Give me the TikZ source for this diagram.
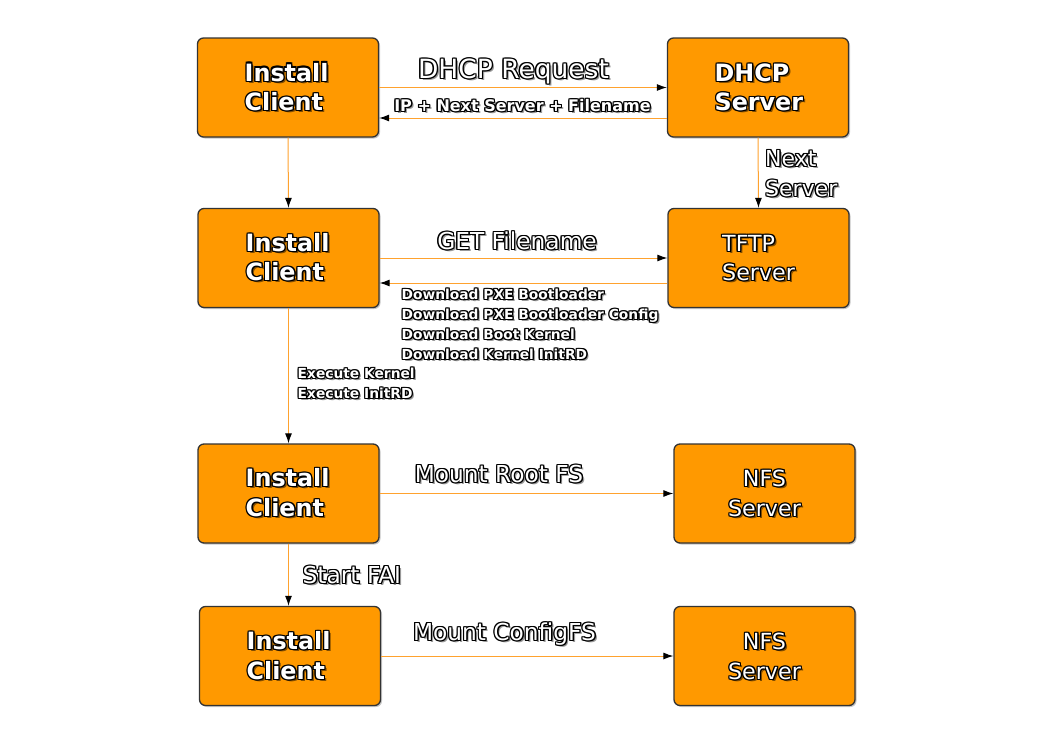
\documentclass[tikz,border=0pt]{standalone}
\usepackage{fontspec}
\setmainfont{DejaVu Sans}
\usetikzlibrary{arrows.meta,shadows}
\definecolor{boxor}{HTML}{FF9900}
\definecolor{lineor}{HTML}{FFA22E}
\colorlet{shw}{black!40}
\colorlet{sho}{boxor!50!black}
\def\shcol{shw}
\newcommand\otp[4]{\rlap{\kern#1\raise#2\hbox{\color{#3}#4}}}
\newcommand\ot[1]{\leavevmode
  \otp{2.3pt}{-2.3pt}{\shcol}{#1}%
  \otp{-1.1pt}{-1.1pt}{black}{#1}\otp{-1.1pt}{0pt}{black}{#1}\otp{-1.1pt}{1.1pt}{black}{#1}%
  \otp{0pt}{-1.1pt}{black}{#1}\otp{0pt}{1.1pt}{black}{#1}%
  \otp{1.1pt}{-1.1pt}{black}{#1}\otp{1.1pt}{0pt}{black}{#1}\otp{1.1pt}{1.1pt}{black}{#1}%
  \hbox{\color{white}#1}}
\newcommand\olab[4]{\node[#1] (#3) at (#2) {\ot{#4}};}
\tikzset{
  box/.style={draw=black!80, line width=1.3pt, fill=boxor, rounded corners=6pt,
    minimum width=181pt, minimum height=99pt, inner sep=0pt,
    drop shadow={opacity=0.45, shadow xshift=1.5pt, shadow yshift=-1.5pt}},
  conn/.style={draw=lineor, line width=1pt, -{Latex[length=10pt,width=7pt,color=black]}},
  tb/.style={inner sep=0pt, font=\def\shcol{sho}\fontsize{23.8}{28}\selectfont\bfseries},
  tr/.style={inner sep=0pt, font=\def\shcol{sho}\fontsize{22.2}{28}\selectfont},
  el/.style={inner sep=0pt, font=\fontsize{23.3}{28}\selectfont},
  elm/.style={inner sep=0pt, font=\fontsize{22}{28}\selectfont},
  elb/.style={inner sep=0pt, font=\fontsize{26.5}{30}\selectfont},
  mb/.style={inner sep=0pt, font=\fontsize{16}{18}\selectfont\bfseries},
  sb/.style={inner sep=0pt, font=\fontsize{13.8}{16}\selectfont\bfseries}
}
\begin{document}
\begin{tikzpicture}[x=1pt,y=-1pt]
\useasboundingbox (0,0) rectangle (1052,744);
% boxes
\node[box] (c1) at (288,87.5) {};
\node[box] (dhcp) at (758,87.5) {};
\node[box] (c2) at (288.5,258) {};
\node[box] (tftp) at (758.5,258) {};
\node[box] (c3) at (288.5,493.5) {};
\node[box] (nfsa) at (764.5,493.5) {};
\node[box] (c4) at (290,656) {};
\node[box] (nfsb) at (764.5,656) {};
% connectors
\draw[conn] (c1.east) -- (dhcp.west);
\draw[conn] ([yshift=-30.5pt]dhcp.west) -- ([yshift=-30.5pt]c1.east);
\draw[conn] (dhcp.south) -- (tftp.north);
\draw[conn] (c1.south) -- (c2.north);
\draw[conn] (c2.east) -- (tftp.west);
\draw[conn] ([yshift=-25pt]tftp.west) -- ([yshift=-25pt]c2.east);
\draw[conn] (c2.south) -- (c3.north);
\draw[conn] (c3.east) -- (nfsa.west);
\draw[conn] (c3.south) -- (c3.south |- c4.north);
\draw[conn] (c4.east) -- (nfsb.west);
% box texts
\olab{tb,anchor=base west}{244.5,81}{c1a}{Install}
\olab{tb,anchor=base west}{244.5,110.5}{c1b}{Client}
\olab{tb,anchor=base west}{714.5,81.5}{dha}{DHCP}
\olab{tb,anchor=base west}{714.5,110.5}{dhb}{Server}
\olab{tb,anchor=base west}{245.5,251.5}{c2a}{Install}
\olab{tb,anchor=base west}{245.5,280.5}{c2b}{Client}
\olab{tr,anchor=base west}{722,251.5}{tfa}{TFTP}
\olab{tr,anchor=base west}{722,280.5}{tfb}{Server}
\olab{tb,anchor=base west}{245.5,486.5}{c3a}{Install}
\olab{tb,anchor=base west}{245.5,516.5}{c3b}{Client}
\olab{tr,anchor=base}{764.5,486.5}{nfa}{NFS}
\olab{tr,anchor=base}{764.5,516.5}{nfb}{Server}
\olab{tb,anchor=base west}{246.5,649.5}{c4a}{Install}
\olab{tb,anchor=base west}{246.5,679.5}{c4b}{Client}
\olab{tr,anchor=base}{764.5,649.5}{nfc}{NFS}
\olab{tr,anchor=base}{764.5,679.5}{nfd}{Server}
% edge labels
\olab{elb,anchor=base}{513.5,78.5}{l1}{DHCP Request}
\olab{mb,anchor=base}{522.5,111.5}{l2}{IP + Next Server + Filename}
\olab{elm,anchor=base west}{765,166.5}{l3a}{Next}
\olab{elm,anchor=base west}{765,196.5}{l3b}{Server}
\olab{el,anchor=base}{517,249.5}{l4}{GET Filename}
\olab{sb,anchor=base west}{401.5,299.5}{l5a}{Download PXE Bootloader}
\olab{sb,anchor=base west}{401.5,319.5}{l5b}{Download PXE Bootloader Config}
\olab{sb,anchor=base west}{401.5,339.5}{l5c}{Download Boot Kernel}
\olab{sb,anchor=base west}{401.5,359.5}{l5d}{Download Kernel InitRD}
\olab{sb,anchor=base west}{297.5,378.5}{l6a}{Execute Kernel}
\olab{sb,anchor=base west}{297.5,398.5}{l6b}{Execute InitRD}
\olab{el,anchor=base}{499,482.5}{l7}{Mount Root FS}
\olab{el,anchor=base west}{302.5,583.5}{l8}{Start FAI}
\olab{el,anchor=base}{504.5,640.5}{l9}{Mount ConfigFS}
\end{tikzpicture}
\end{document}
